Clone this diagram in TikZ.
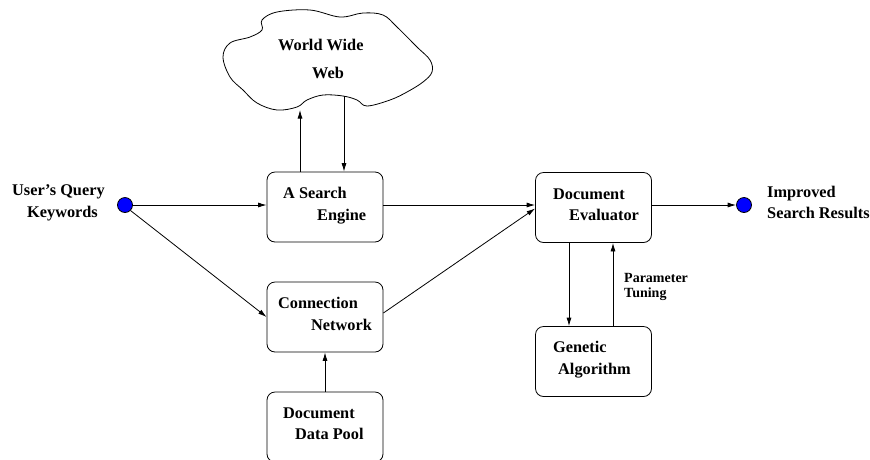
\documentclass[tikz,border=0pt]{standalone}
\usepackage{fontspec}
\setmainfont{Liberation Serif}
\usetikzlibrary{arrows.meta}
\begin{document}
\begin{tikzpicture}[x=1pt,y=-1pt,
  box/.style={draw, rounded corners=8pt, minimum width=116pt, minimum height=70pt, line width=0.8pt, inner sep=0},
  lbl/.style={anchor=base west, inner sep=0, font=\fontsize{16.3}{19}\selectfont\bfseries},
  small/.style={anchor=base west, inner sep=0, font=\fontsize{14}{16}\selectfont\bfseries},
  arr/.style={line width=0.8pt, -{Latex[length=8.5pt,width=5pt]}},
  dot/.style={circle, draw, fill=blue, minimum size=15pt, inner sep=0, line width=0.8pt}]
\useasboundingbox (0,0) rectangle (870,459);

% cloud
\draw[line width=0.8pt] plot[smooth cycle, tension=0.6] coordinates {
 (262,20) (277,12) (310,10) (340,17) (363,13) (383,15) (397,27) (417,47)
 (430,60) (432,72) (423,82) (407,92) (390,100) (367,106) (357,100) (343,96)
 (323,95) (307,100) (297,107) (277,110) (257,103) (243,90) (230,77) (223,57)
 (230,43) (250,37) (262,30)};
\node[lbl] (ww1) at (278,50) {World Wide};
\node[lbl] (ww2) at (312,78) {Web};
\coordinate (cup) at (300,110);
\coordinate (cdn) at (344,96);

% boxes
\node[box] (se) at (325,207) {};
\node[box] (de) at (593.5,207.5) {};
\node[box] (ga) at (593.5,361.5) {};
\node[box] (cn) at (325,317) {};
\node[box] (dp) at (325,427) {};

\node[lbl] (se1) at (283,198) {A Search};
\node[lbl] (se2) at (317,220) {Engine};
\node[lbl] (de1) at (553,199) {Document};
\node[lbl] (de2) at (569,220) {Evaluator};
\node[lbl] (ga1) at (553,352) {Genetic};
\node[lbl] (ga2) at (558,374) {Algorithm};
\node[lbl] (cn1) at (278,308) {Connection};
\node[lbl] (cn2) at (311,330) {Network};
\node[lbl] (dp1) at (283,418) {Document};
\node[lbl] (dp2) at (295,439) {Data Pool};

% terminals
\node[dot] (uq) at (125,205) {};
\node[dot] (ir) at (744,205) {};
\node[lbl] (uq1) at (12,195) {User’s Query};
\node[lbl] (uq2) at (27,217) {Keywords};
\node[lbl] (ir1) at (767,197) {Improved};
\node[lbl] (ir2) at (767,218) {Search Results};
\node[small] (pt1) at (624,282) {Parameter};
\node[small] (pt2) at (624,297) {Tuning};

\coordinate (xa) at (569,0);
\coordinate (xb) at (613,0);

% connectors
\draw[arr] (se.north -| cup) -- (cup);
\draw[arr] (cdn) -- (cdn |- se.north);
\draw[arr] (uq.east) -- (uq.east -| se.west);
\draw[arr] (uq.south east) -- (cn.west);
\draw[arr] (se.east |- uq) -- (de.west |- uq);
\draw[arr] ([yshift=4pt]cn.east) -- ([yshift=-1pt]de.west);
\draw[arr] (de.east |- ir) -- (ir.west);
\draw[arr] (de.south -| xa) -- (ga.north -| xa);
\draw[arr] (ga.north -| xb) -- (de.south -| xb);
\draw[arr] (dp.north) -- (cn.south);
\end{tikzpicture}
\end{document}
